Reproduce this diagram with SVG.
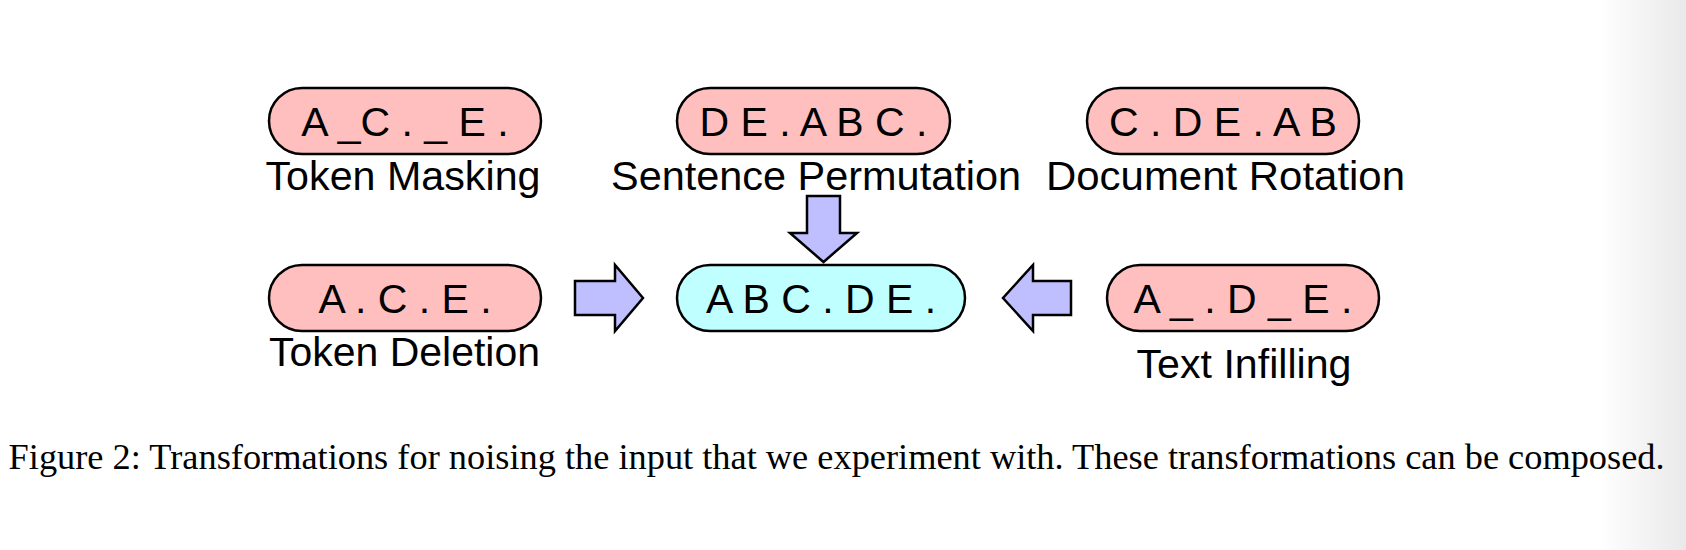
<svg xmlns="http://www.w3.org/2000/svg" width="1686" height="550" viewBox="0 0 1686 550">
  <defs>
    <linearGradient id="edge" x1="0" y1="0" x2="1" y2="0">
      <stop offset="0" stop-color="#ffffff"/>
      <stop offset="1" stop-color="#e9e9e9"/>
    </linearGradient>
    <style>
      .pill { stroke: #000; stroke-width: 2.5; }
      .noise { fill: #ffbfbf; }
      .orig { fill: #bfffff; }
      .arrow { fill: #bfbfff; stroke: #000; stroke-width: 2.5; stroke-linejoin: miter; }
      .ptext { font-family: "Liberation Sans", Arial, Helvetica, sans-serif; font-size: 41px; fill: #000; text-anchor: middle; }
      .label { font-family: "Liberation Sans", Arial, Helvetica, sans-serif; font-size: 40.5px; fill: #000; text-anchor: middle; }
      .caption { font-family: "Liberation Serif", "Times New Roman", serif; font-size: 36.3px; fill: #000; }
    </style>
  </defs>
  <rect x="0" y="0" width="1686" height="550" fill="#ffffff"/>
  <rect x="1600" y="0" width="86" height="550" fill="url(#edge)"/>

  <g id="token-masking">
    <rect class="pill noise" x="269" y="88" width="272" height="66" rx="33" ry="33"/>
    <text class="ptext" x="405" y="136">A _C . _ E .</text>
    <text class="label" x="403" y="190" textLength="275" lengthAdjust="spacingAndGlyphs">Token Masking</text>
  </g>
  <g id="sentence-permutation">
    <rect class="pill noise" x="677" y="88" width="273" height="66" rx="33" ry="33"/>
    <text class="ptext" x="813.5" y="136">D E . A B C .</text>
    <text class="label" x="816" y="190" textLength="410" lengthAdjust="spacingAndGlyphs">Sentence Permutation</text>
  </g>
  <g id="document-rotation">
    <rect class="pill noise" x="1087" y="88" width="272" height="66" rx="33" ry="33"/>
    <text class="ptext" x="1223" y="136">C . D E . A B</text>
    <text class="label" x="1225.5" y="190" textLength="359" lengthAdjust="spacingAndGlyphs">Document Rotation</text>
  </g>
  <g id="token-deletion">
    <rect class="pill noise" x="269" y="265" width="272" height="66" rx="33" ry="33"/>
    <text class="ptext" x="405" y="313">A . C . E .</text>
    <text class="label" x="404.5" y="366" textLength="271" lengthAdjust="spacingAndGlyphs">Token Deletion</text>
  </g>
  <g id="original">
    <rect class="pill orig" x="677" y="265" width="288" height="66" rx="33" ry="33"/>
    <text class="ptext" x="821" y="313">A B C . D E .</text>
  </g>
  <g id="text-infilling">
    <rect class="pill noise" x="1107" y="265" width="272" height="66" rx="33" ry="33"/>
    <text class="ptext" x="1243" y="313">A _ . D _ E .</text>
    <text class="label" x="1244" y="378" textLength="215" lengthAdjust="spacingAndGlyphs">Text Infilling</text>
  </g>

  <g id="connectors">
    <path class="arrow" d="M575,281 H615 V265 L643,298 L615,331 V315 H575 Z"/>
    <path class="arrow" d="M1071,281 H1033 V265 L1003,298 L1033,331 V315 H1071 Z"/>
    <path class="arrow" d="M807,196 H840 V233 H857 L823.5,262 L790,233 H807 Z"/>
  </g>

  <text class="caption" x="8.6" y="469" textLength="1656" lengthAdjust="spacingAndGlyphs">Figure 2: Transformations for noising the input that we experiment with. These transformations can be composed.</text>
</svg>
